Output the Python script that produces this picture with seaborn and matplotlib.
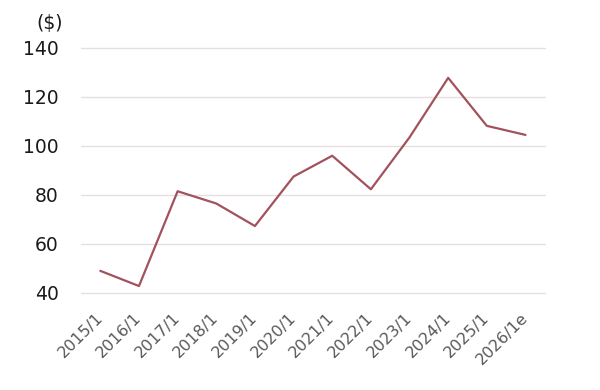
import matplotlib
matplotlib.use("Agg")
import matplotlib.pyplot as plt
import seaborn as sns
import pandas as pd
import numpy as np

categories = ["2015/1", "2016/1", "2017/1", "2018/1", "2019/1", "2020/1",
              "2021/1", "2022/1", "2023/1", "2024/1", "2025/1", "2026/1e"]
values = [49.0, 42.8, 81.5, 76.5, 67.3, 87.5, 96.0, 82.3, 103.5, 127.8, 108.2, 104.5]
y_ticks = [40, 60, 80, 100, 120, 140]

sns.set_theme(style="white")
plt.rcParams['font.family'] = ['DejaVu Sans']

df = pd.DataFrame({"cat": categories, "val": values, "idx": np.arange(len(categories))})

fig = plt.figure(figsize=(6, 3.9), dpi=100)
ax = fig.add_axes([0.135, 0.249, 0.773, 0.628])

for yv in y_ticks:
    ax.axhline(yv, color="#e6dfe0", lw=1.0, zorder=0, clip_on=False)

sns.lineplot(data=df, x="idx", y="val", ax=ax, color="#a2525d", lw=1.6, zorder=3)

ax.set_xlim(-0.5, len(categories) - 0.5)
ax.set_ylim(40, 140)
ax.set_yticks(y_ticks)
ax.set_yticklabels([str(v) for v in y_ticks], fontsize=13.5, color="#1a1a1a")
ax.set_xticks(np.arange(len(categories)))
ax.set_xticklabels(categories, rotation=45, ha="right", va="center",
                   rotation_mode="anchor", fontsize=11.5, color="#595959")
ax.set_xticks(np.arange(len(categories) + 1) - 0.5, minor=True)
ax.tick_params(axis="x", which="major", length=0, pad=16)
ax.tick_params(axis="x", which="minor", length=4, color="#e0dcdc", direction="in")
ax.tick_params(axis="y", length=0, pad=16)
ax.set_xlabel("")
ax.set_ylabel("")
for s in ax.spines.values():
    s.set_visible(False)

fig.text(0.06, 0.925, "($)", fontsize=13.5, color="#1a1a1a")

fig.savefig("out.png", dpi=100)
